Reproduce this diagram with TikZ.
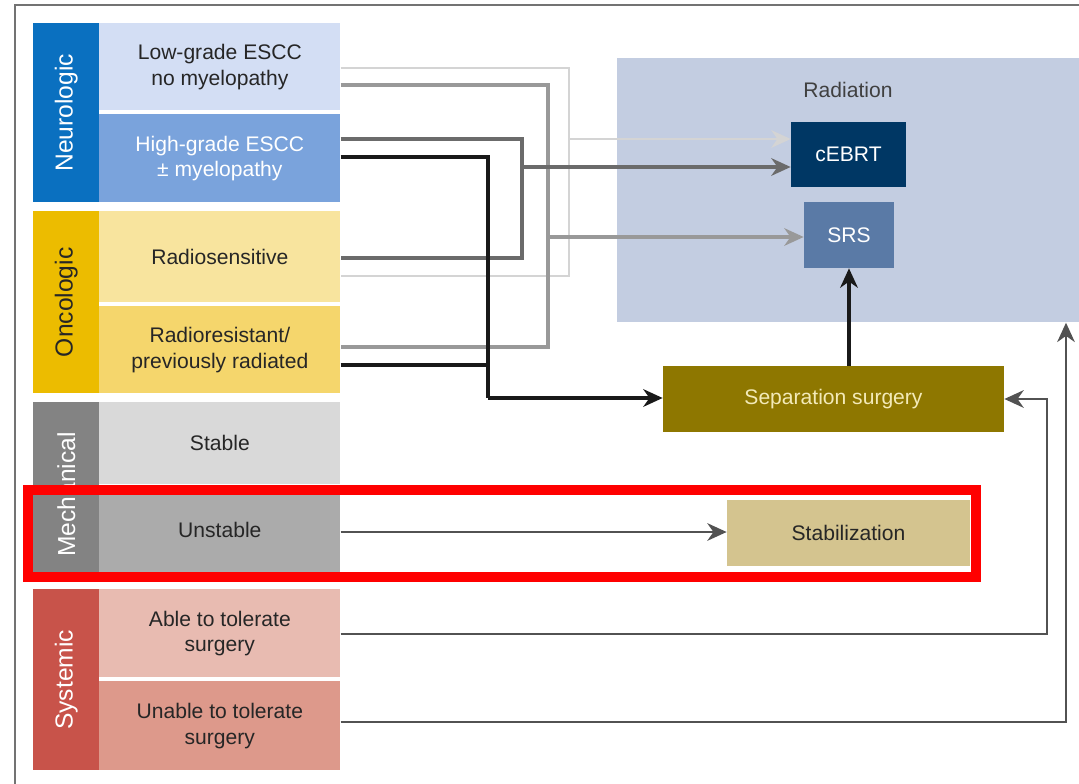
\documentclass[tikz,border=0pt]{standalone}
\usepackage{fontspec}
\setmainfont{Liberation Sans}
\usetikzlibrary{arrows.meta,positioning,calc}
\newcommand{\pxu}{0.02cm}
\definecolor{neurobar}{HTML}{0A70C0}
\definecolor{lowc}{HTML}{D3DEF4}
\definecolor{highc}{HTML}{7AA3DC}
\definecolor{oncobar}{HTML}{ECBC00}
\definecolor{rsensc}{HTML}{F8E49E}
\definecolor{rresc}{HTML}{F5D66C}
\definecolor{mechbar}{HTML}{838383}
\definecolor{stablec}{HTML}{D9D9D9}
\definecolor{unstabc}{HTML}{ABABAB}
\definecolor{sysbar}{HTML}{C8534A}
\definecolor{ablec}{HTML}{E8BBB1}
\definecolor{unablec}{HTML}{DD998B}
\definecolor{radbg}{HTML}{C3CDE1}
\definecolor{cebrtc}{HTML}{003764}
\definecolor{srsc}{HTML}{5A7AA6}
\definecolor{sepc}{HTML}{8E7700}
\definecolor{septext}{HTML}{F3EAB8}
\definecolor{stabc}{HTML}{D4C48F}
\begin{document}
\begin{tikzpicture}[x=0.02cm,y=-0.02cm,>={Stealth[length=11pt,width=10pt,inset=3.5pt]},
 cell/.style={anchor=north west,inner sep=0pt,minimum width=241*\pxu,align=center,
   font=\fontsize{12}{14.5}\selectfont,text=black!85},
 bar/.style={anchor=north west,inner sep=0pt,minimum width=66*\pxu},
 side/.style={rotate=90,font=\fontsize{14}{16}\selectfont,text=white},
 tbox/.style={inner sep=0pt,align=center,font=\fontsize{12}{14.5}\selectfont,text=black!85},
 lg/.style={draw=black!17,line width=1.5pt},
 mg/.style={draw=black!40,line width=1.8pt},
 dg/.style={draw=black!58,line width=2.1pt},
 blk/.style={draw=black!90,line width=1.9pt},
 bt/.style={draw=black!68,line width=1.5pt}]
\useasboundingbox (0,0) rectangle (1079,784);
\draw[black!55,line width=1.2pt] (1079,5) -- (15,5) -- (15,784);
% neurologic
\node[bar,fill=neurobar,minimum height=179*\pxu] (neuro) at (33,23) {};
\node[side] (neurotxt) at (neuro.center) {Neurologic};
\node[cell,fill=lowc,minimum height=87*\pxu] (low) at (99,23) {Low-grade ESCC\\no myelopathy};
\node[cell,fill=highc,text=white,minimum height=88*\pxu] (high) at (99,114) {High-grade ESCC\\± myelopathy};
% oncologic
\node[bar,fill=oncobar,minimum height=182*\pxu] (onco) at (33,211) {};
\node[side,text=black!85] (oncotxt) at (onco.center) {Oncologic};
\node[cell,fill=rsensc,minimum height=91*\pxu] (rsens) at (99,211) {Radiosensitive};
\node[cell,fill=rresc,minimum height=87*\pxu] (rres) at (99,306) {Radioresistant/\\previously radiated};
% mechanical
\node[bar,fill=mechbar,minimum height=170*\pxu] (mech) at (33,402) {};
\node[side] (mechtxt) at ([yshift=-4pt]mech.center) {Mechanical};
\node[cell,fill=stablec,minimum height=82*\pxu] (stable) at (99,402) {Stable};
\node[cell,fill=unstabc,minimum height=85*\pxu] (unstab) at (99,487) {Unstable};
% systemic
\node[bar,fill=sysbar,minimum height=181*\pxu] (sys) at (33,589) {};
\node[side] (systxt) at (sys.center) {Systemic};
\node[cell,fill=ablec,minimum height=88*\pxu] (able) at (99,589) {Able to tolerate\\surgery};
\node[cell,fill=unablec,minimum height=89*\pxu] (unable) at (99,681) {Unable to tolerate\\surgery};
% treatments
\node[anchor=north west,inner sep=0pt,fill=radbg,minimum width=462*\pxu,minimum height=264*\pxu] (rad) at (617,58) {};
\node[tbox,text=black!75] (radtxt) at (848,90) {Radiation};
\node[tbox,fill=cebrtc,text=white,minimum width=115*\pxu,minimum height=65*\pxu] (cebrt) at (848.5,154.5) {cEBRT};
\node[tbox,fill=srsc,text=white,minimum width=90*\pxu,minimum height=66*\pxu] (srs) at (849,235) {SRS};
\node[tbox,fill=sepc,text=septext,minimum width=341*\pxu,minimum height=66*\pxu] (sep) at (833.5,399) {Separation surgery};
\node[tbox,fill=stabc,minimum width=243*\pxu,minimum height=66*\pxu] (stab) at (848.5,533) {Stabilization};
% connectors
\coordinate (jlg) at (569,139);
\coordinate (jmg) at (548,237);
\coordinate (jdg) at (522,167);
\coordinate (jbk) at (488,398);
\draw[lg] (low.east |- 0,68) -| (jlg) |- (rsens.east |- 0,276);
\draw[lg,->] (jlg) -- (cebrt.west |- jlg);
\draw[mg] (low.east |- 0,85) -| (jmg) |- (rres.east |- 0,347);
\draw[mg,->] (jmg) -- (srs.west |- jmg);
\draw[dg] (high.east |- 0,139) -| (jdg) |- (rsens.east |- 0,258);
\draw[dg,->] (jdg) -- (cebrt.west |- jdg);
\draw[blk] (high.east |- 0,157) -| (jbk);
\draw[blk] (rres.east |- 0,365) -- (jbk |- 0,365);
\draw[blk,->] (jbk) -- (sep.west |- jbk);
\draw[blk,->] (srs.south |- sep.north) -- (srs.south);
\draw[bt,->] (unstab.east |- 0,532) -- (stab.west |- 0,532);
\draw[bt,->] (able.east |- 0,634) -- (1047,634) |- (sep.east);
\draw[bt,->] (unable.east |- 0,722) -| (rad.south -| 1066,0);
% highlight
\draw[red,line width=0.2cm] (28,490) rectangle (976,577);
\end{tikzpicture}
\end{document}
